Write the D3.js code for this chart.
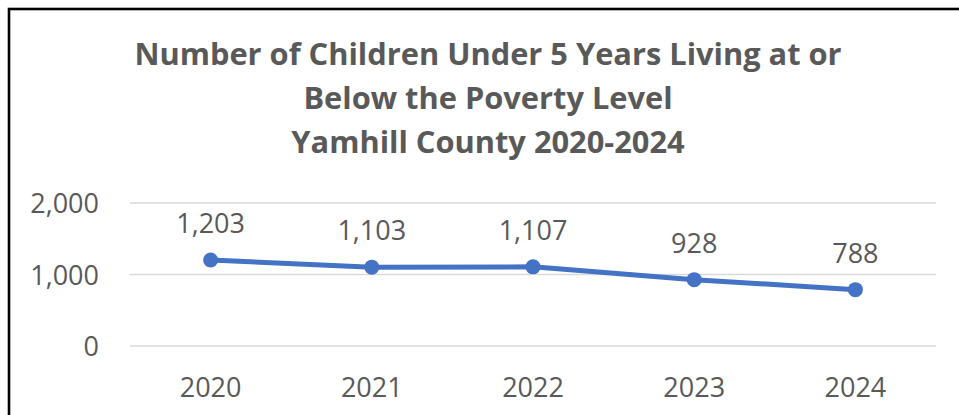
<!DOCTYPE html>
<html>
<head>
<meta charset="utf-8">
<script src="https://cdn.jsdelivr.net/npm/d3@7"></script>
<style>
  html, body { margin: 0; padding: 0; background: #ffffff; }
  svg { display: block; }
</style>
</head>
<body>
<svg id="chart" width="959" height="415"></svg>
<script>
// Children under 5 living at or below the poverty level, Yamhill County
const years = ["2020", "2021", "2022", "2023", "2024"];
const children = [1203, 1103, 1107, 928, 788];
const yTicks = [0, 1000, 2000];
const titleLines = [
  "Number of Children Under 5 Years Living at or",
  "Below the Poverty Level",
  "Yamhill County 2020-2024"
];

const W = 959, H = 415;
const font = "'Open Sans', 'Noto Sans', sans-serif";
const textGray = "#595959";
const lineBlue = "#4472C4";

const svg = d3.select("#chart");

// Frame of the chart area
svg.append("rect")
  .attr("x", 9).attr("y", 9)
  .attr("width", W + 20).attr("height", H + 20)
  .attr("fill", "#ffffff")
  .attr("stroke", "#000000")
  .attr("stroke-width", 2.6);

// Title
const titleBaselines = [65, 109, 153];
const title = svg.append("g");
title.selectAll("text")
  .data(titleLines)
  .join("text")
  .attr("x", 488)
  .attr("y", (d, i) => titleBaselines[i])
  .attr("text-anchor", "middle")
  .attr("font-family", font)
  .attr("font-weight", "bold")
  .attr("font-size", 30.8)
  .attr("fill", textGray)
  .text(d => d);

// Scales
const plot = { left: 130, right: 936, top: 203, bottom: 346 };
const x = d3.scaleBand().domain(years).range([plot.left, plot.right]);
const y = d3.scaleLinear().domain([0, 2000]).range([plot.bottom, plot.top]);

// Gridlines
svg.append("g")
  .selectAll("line")
  .data(yTicks)
  .join("line")
  .attr("x1", plot.left).attr("x2", plot.right)
  .attr("y1", d => y(d)).attr("y2", d => y(d))
  .attr("stroke", "#d9d9d9")
  .attr("stroke-width", 1.5);

// Y axis labels
const yAxis = svg.append("g")
  .attr("transform", `translate(${plot.left - 31},0)`)
  .call(d3.axisLeft(y).tickValues(yTicks).tickFormat(d3.format(",")).tickSize(0).tickPadding(0));
yAxis.select(".domain").remove();
yAxis.selectAll("text")
  .attr("font-family", font)
  .attr("font-size", 27)
  .attr("fill", textGray)
  .attr("dy", "0.36em");

// X axis labels
const xAxis = svg.append("g")
  .attr("transform", `translate(0,${plot.bottom})`)
  .call(d3.axisBottom(x).tickSize(0).tickPadding(0));
xAxis.select(".domain").remove();
xAxis.selectAll("text")
  .attr("font-family", font)
  .attr("font-size", 27)
  .attr("fill", textGray)
  .attr("dy", null)
  .attr("y", 51);

const cx = d => x(d) + x.bandwidth() / 2;

// Line
svg.append("path")
  .datum(years.map((yr, i) => [yr, children[i]]))
  .attr("fill", "none")
  .attr("stroke", lineBlue)
  .attr("stroke-width", 5)
  .attr("stroke-linejoin", "round")
  .attr("stroke-linecap", "round")
  .attr("d", d3.line().x(d => cx(d[0])).y(d => y(d[1])));

// Markers
svg.append("g")
  .selectAll("circle")
  .data(years.map((yr, i) => [yr, children[i]]))
  .join("circle")
  .attr("cx", d => cx(d[0]))
  .attr("cy", d => y(d[1]))
  .attr("r", 7.5)
  .attr("fill", lineBlue);

// Value labels
svg.append("g")
  .selectAll("text")
  .data(years.map((yr, i) => [yr, children[i]]))
  .join("text")
  .attr("x", d => cx(d[0]))
  .attr("y", d => y(d[1]) - 27)
  .attr("text-anchor", "middle")
  .attr("font-family", font)
  .attr("font-size", 27)
  .attr("fill", textGray)
  .text(d => d3.format(",")(d[1]));
</script>
</body>
</html>
